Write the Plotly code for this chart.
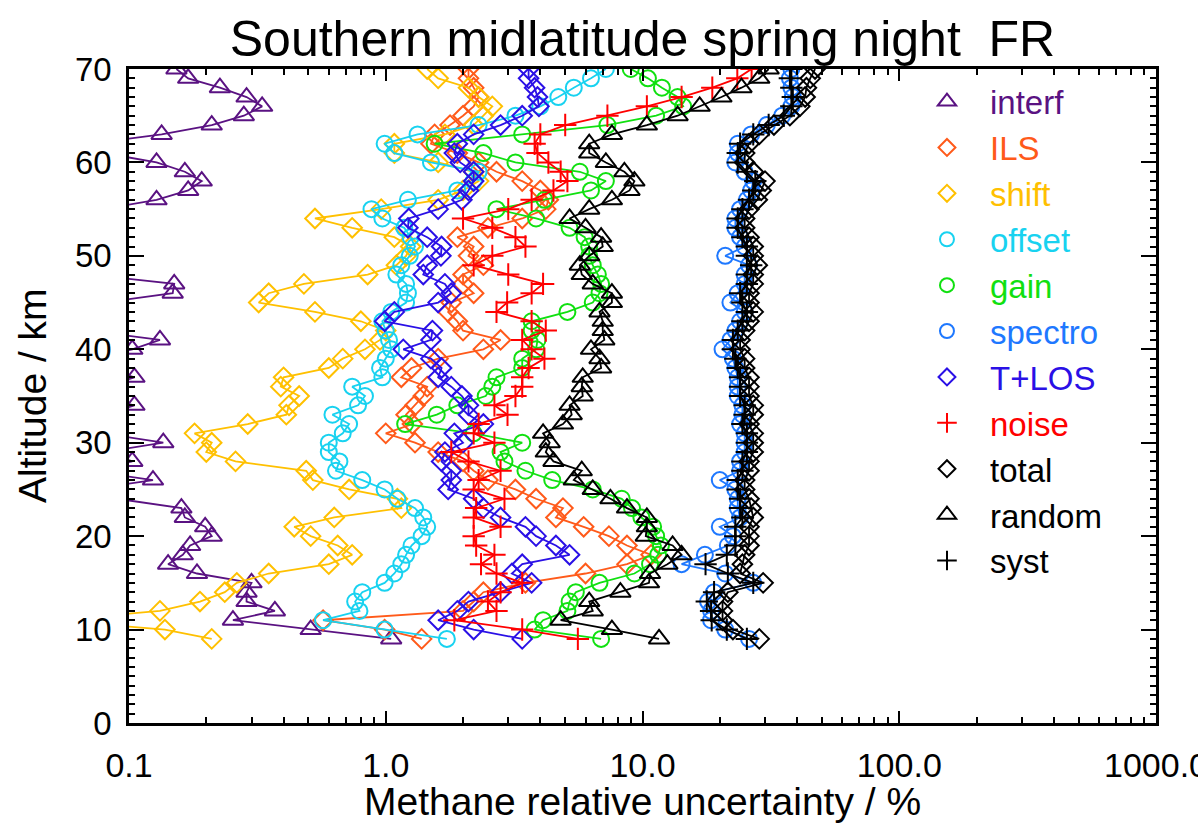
import plotly.graph_objects as go

# ---------------- data ----------------
altitude = list(range(9, 71))  # km

interf = [1.05, 0.51, 0.254, 0.37, 0.287, 0.287, 0.30, 0.184, 0.142, 0.162,
          0.173, 0.21, 0.198, 0.165, 0.16, 0.09, 0.07, 0.124, 0.07, 0.103,
          0.08, 0.136, 0.08, 0.06, 0.08, 0.105, 0.07, 0.08, 0.105, 0.08,
          0.07, 0.103, 0.132, 0.07, 0.05, 0.06, 0.08, 0.148, 0.15, 0.07,
          0.05, 0.04, 0.04, 0.04, 0.05, 0.05, 0.08, 0.128, 0.17, 0.192,
          0.165, 0.128, 0.08, 0.07, 0.134, 0.21, 0.28, 0.33, 0.287, 0.226,
          0.17, 0.153]

ils = [1.38, 0.99, 0.57, 2.0, 2.2, 2.4, 3.5, 6.0, 8.7, 10.8,
       8.7, 7.4, 5.9, 4.6, 4.9, 3.85, 3.2, 2.5, 2.2, 2.0,
       1.6, 1.3, 1.0, 1.27, 1.2, 1.3, 1.4, 1.45, 1.15, 1.26,
       1.6, 2.4, 2.8, 2.0, 1.9, 1.75, 1.8, 2.2, 2.0, 2.0,
       2.4, 2.1, 2.2, 1.9, 2.5, 3.4, 4.2, 4.3, 4.0, 3.4,
       2.7, 2.3, 1.9, 1.5, 1.55, 1.78, 2.0, 2.2, 2.3, 2.2,
       2.1, 2.1]

shift = [0.21, 0.138, 0.05, 0.132, 0.189, 0.236, 0.263, 0.35, 0.6, 0.74,
         0.65, 0.51, 0.44, 0.63, 1.15, 1.11, 0.72, 0.52, 0.49, 0.26,
         0.2, 0.21, 0.18, 0.29, 0.41, 0.42, 0.46, 0.39, 0.4, 0.6,
         0.68, 0.83, 0.95, 1.0, 0.8, 0.53, 0.32, 0.35, 0.48, 0.85,
         1.1, 1.2, 1.25, 1.08, 0.74, 0.53, 0.96, 1.6, 2.0, 2.3,
         2.2, 1.6, 1.08, 1.08, 1.7, 2.2, 2.4, 2.6, 2.3, 2.1,
         1.6, 1.45]

offset = [1.73, 0.99, 0.57, 0.79, 0.76, 0.81, 0.99, 1.08, 1.15, 1.2,
          1.26, 1.38, 1.45, 1.4, 1.3, 1.11, 0.99, 0.81, 0.64, 0.66,
          0.6, 0.6, 0.68, 0.72, 0.62, 0.78, 0.83, 0.74, 0.97, 0.95,
          1.0, 1.05, 1.03, 1.0, 0.97, 1.05, 1.2, 1.22, 1.2, 1.1,
          1.15, 1.24, 1.3, 1.25, 1.18, 0.97, 0.88, 1.22, 1.9, 2.2,
          2.3, 1.5, 1.08, 0.99, 1.33, 2.3, 3.2, 4.0, 4.7, 5.4,
          6.3, 7.2]

gain = [6.9, 3.8, 4.1, 5.1, 5.2, 5.5, 6.8, 9.3, 10.7, 11.5,
        11.8, 11.3, 11.0, 9.9, 9.1, 8.3, 6.4, 4.45, 3.5, 2.9,
        2.8, 3.4, 2.2, 1.19, 1.58, 1.9, 2.45, 2.6, 2.7, 3.4,
        3.4, 3.85, 3.9, 3.7, 3.7, 5.1, 6.4, 6.8, 6.9, 6.7,
        6.4, 6.2, 6.2, 5.95, 5.2, 3.85, 2.7, 4.15, 6.3, 7.2,
        5.7, 3.2, 2.4, 1.55, 3.4, 7.3, 11.3, 14.4, 13.7, 11.9,
        10.5, 9.0]

spectro = [26.0, 21.0, 18.5, 18.5, 18.0, 19.0, 27.0, 21.0, 14.2, 17.5,
           21.5, 22.5, 20.0, 24.0, 23.5, 23.5, 23.0, 20.0, 24.0, 24.0,
           25.0, 25.0, 25.0, 24.0, 24.5, 24.5, 23.5, 23.5, 23.5, 23.0,
           22.5, 20.5, 22.0, 23.0, 24.0, 25.0, 22.0, 23.5, 25.0, 25.0,
           26.0, 21.0, 25.0, 24.0, 23.0, 23.0, 24.0, 25.5, 26.5, 27.0,
           25.0, 23.0, 23.5, 23.5, 26.5, 30.5, 35.0, 38.0, 38.5, 38.0,
           37.5, 38.0]

tlos = [3.4, 2.2, 1.6, 1.9, 2.1, 2.8, 3.7, 3.1, 3.4, 5.2,
        4.6, 3.85, 3.5, 2.8, 2.4, 2.2, 1.75, 1.8, 1.8, 1.65,
        1.7, 2.0, 1.85, 2.4, 2.1, 2.1, 1.98, 1.8, 1.6, 1.65,
        1.5, 1.17, 1.5, 1.52, 0.99, 1.08, 1.6, 1.8, 1.7, 1.4,
        1.45, 1.64, 1.65, 1.45, 1.22, 1.23, 1.6, 1.98, 2.1, 2.2,
        2.2, 1.95, 1.85, 1.9, 2.2, 2.8, 3.4, 3.95, 3.9, 3.8,
        3.6, 3.6]

noise = [5.6, 3.4, 1.85, 2.7, 2.5, 2.8, 3.4, 2.7, 2.35, 2.65,
         2.25, 2.2, 2.8, 2.2, 2.25, 2.9, 2.2, 2.3, 2.8, 2.1,
         1.8, 2.65, 2.2, 2.3, 2.98, 2.65, 3.2, 3.4, 3.4, 3.6,
         4.15, 3.7, 3.4, 4.2, 3.7, 2.7, 2.97, 3.7, 4.1, 3.0,
         2.2, 2.6, 3.5, 3.2, 2.6, 2.0, 3.0, 3.7, 4.5, 5.1,
         4.8, 4.3, 3.9, 3.8, 4.0, 5.0, 7.3, 10.4, 14.2, 18.7,
         23.4, 26.6]

total = [28.5, 22.5, 20.5, 20.5, 20.5, 21.5, 29.5, 24.0, 24.5, 25.0,
         26.0, 26.0, 26.0, 27.0, 26.5, 26.0, 25.0, 25.0, 26.0, 26.0,
         27.0, 27.0, 27.0, 26.0, 27.0, 27.0, 26.0, 26.0, 26.0, 25.0,
         25.0, 24.0, 24.0, 25.0, 26.0, 27.0, 26.0, 26.0, 27.0, 27.0,
         28.0, 27.0, 27.0, 26.0, 25.0, 25.0, 26.0, 28.0, 29.0, 30.0,
         27.0, 25.0, 25.0, 26.0, 28.5, 32.5, 37.5, 41.0, 43.0, 43.5,
         45.0, 47.0]

random_err = [11.6, 7.6, 4.8, 6.4, 6.2, 8.2, 10.6, 10.7, 12.5, 14.2,
              13.1, 10.3, 10.4, 10.4, 8.7, 7.5, 6.4, 5.4, 5.8, 4.5,
              4.2, 4.35, 4.1, 4.9, 5.3, 5.2, 5.85, 5.8, 5.85, 6.9,
              6.8, 6.3, 7.1, 7.0, 7.0, 6.8, 7.6, 7.6, 6.4, 5.8,
              5.7, 6.2, 7.0, 6.9, 6.0, 5.2, 6.2, 7.6, 8.9, 9.3,
              8.5, 7.2, 6.2, 6.2, 7.6, 10.4, 13.7, 16.7, 20.3, 24.3,
              28.5, 31.0]

syst = [25.5, 21.3, 18.6, 18.5, 17.8, 19.0, 27.0, 21.5, 17.6, 21.3,
        23.0, 23.0, 23.0, 24.5, 24.0, 24.0, 23.5, 23.5, 24.5, 24.5,
        25.5, 25.5, 25.5, 24.5, 25.0, 25.0, 24.0, 24.0, 24.0, 23.5,
        23.0, 22.5, 22.5, 23.5, 24.5, 25.5, 24.5, 24.0, 25.5, 25.5,
        26.5, 25.5, 25.5, 24.5, 23.5, 23.5, 24.5, 26.0, 27.0, 27.5,
        25.5, 23.5, 23.5, 24.0, 27.0, 31.0, 35.5, 38.0, 38.5, 38.0,
        37.5, 38.0]

series = [
    ("interf", interf, "#5a1282", "triangle-up-open", 18),
    ("ILS", ils, "#ff5a1a", "diamond-open", 15),
    ("shift", shift, "#ffc000", "diamond-open", 15),
    ("offset", offset, "#18d2f0", "circle-open", 16),
    ("gain", gain, "#10e010", "circle-open", 16),
    ("spectro", spectro, "#1e78ff", "circle-open", 16),
    ("T+LOS", tlos, "#2a10e6", "diamond-open", 15),
    ("noise", noise, "#ff0000", "cross-thin-open", 16),
    ("total", total, "#000000", "diamond-open", 15),
    ("random", random_err, "#000000", "triangle-up-open", 18),
    ("syst", syst, "#000000", "cross-thin-open", 16),
]

FONT = "Liberation Sans, Arial, Helvetica, sans-serif"

fig = go.Figure()
for name, vals, color, sym, size in series:
    fig.add_trace(go.Scatter(
        x=vals, y=altitude, mode="lines+markers", showlegend=False,
        line=dict(color=color, width=1.8),
        marker=dict(symbol=sym, size=size, color=color,
                    line=dict(color=color, width=2)),
    ))
# legend entries (symbols only)
for name, vals, color, sym, size in series:
    fig.add_trace(go.Scatter(
        x=[None], y=[None], mode="markers", showlegend=True,
        name=f'<span style="color:{color}">{name}</span>',
        marker=dict(symbol=sym, size=size - 2, color=color,
                    line=dict(color=color, width=2)),
    ))

fig.update_layout(
    width=1198, height=823,
    margin=dict(l=129, r=42, t=69, b=100, autoexpand=False),
    paper_bgcolor="white", plot_bgcolor="white",
    font=dict(family=FONT, size=33, color="black"),
    title=dict(text="Southern midlatitude spring night\u00a0\u00a0FR",
               x=0.5, xref="paper", xanchor="center",
               y=1 - 38 / 823, yref="container", yanchor="middle",
               font=dict(size=50, family=FONT, color="black")),
    showlegend=True,
    legend=dict(x=0.7546, y=0.993, xanchor="left", yanchor="top",
                bgcolor="rgba(0,0,0,0)", font=dict(size=33, family=FONT),
                itemwidth=76, tracegroupgap=0),
)

fig.update_xaxes(
    type="log", range=[-1, 3], automargin=False,
    tickvals=[0.1, 1, 10, 100, 999.9],
    ticktext=["0.1", "1.0", "10.0", "100.0", "1000.0"],
    ticks="inside", ticklen=12, tickwidth=2, tickcolor="black",
    minor=dict(ticks="inside", ticklen=6, tickwidth=1.5, tickcolor="black",
               dtick="D1", showgrid=False),
    showline=True, linewidth=2.5, linecolor="black", mirror="allticks",
    showgrid=False, zeroline=False,
    tickfont=dict(size=34, family=FONT),
    ticklabelstandoff=10,
    ticklabeloverflow="allow",
)
fig.update_yaxes(
    range=[0, 70], dtick=10, tick0=0, automargin=False,
    ticks="inside", ticklen=15, tickwidth=2, tickcolor="black",
    minor=dict(ticks="inside", ticklen=6, tickwidth=1.5, tickcolor="black",
               dtick=1, showgrid=False),
    showline=True, linewidth=2.5, linecolor="black", mirror="allticks",
    showgrid=False, zeroline=False,
    tickfont=dict(size=33, family=FONT),
    ticklabelstandoff=8,
)

fig.add_annotation(text="Methane relative uncertainty / %",
                   xref="paper", yref="paper", x=0.5, y=-(801 - 723) / 654,
                   xanchor="center", yanchor="middle", showarrow=False,
                   font=dict(size=39, family=FONT, color="black"))
fig.add_annotation(text="Altitude / km", textangle=-90,
                   xref="paper", yref="paper", x=(32 - 129) / 1027, y=0.5,
                   xanchor="center", yanchor="middle", showarrow=False,
                   font=dict(size=39, family=FONT, color="black"))

fig.write_html("out.html")
